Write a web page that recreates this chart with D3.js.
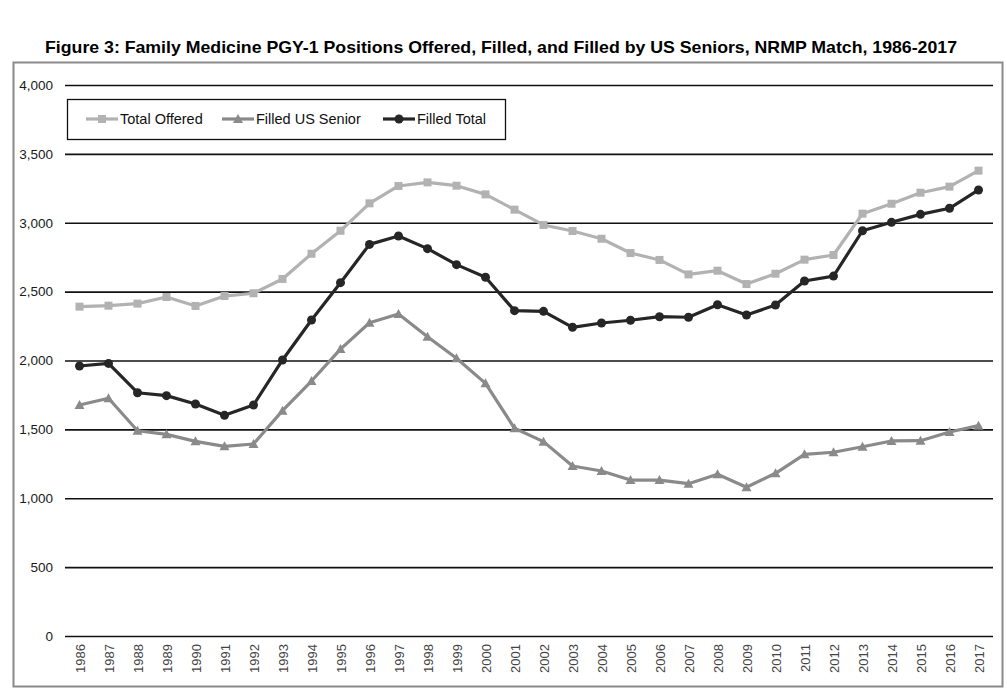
<!DOCTYPE html>
<html><head><meta charset="utf-8">
<script src="https://cdn.jsdelivr.net/npm/d3@7"></script>
<style>body{margin:0;background:#fff;} svg{display:block;}</style>
</head><body>
<svg id="c" width="1007" height="688"></svg>
<script>
const years = d3.range(1986, 2018).map(String);
const totalOffered = [2391,2398,2413,2461,2396,2468,2488,2592,2775,2942,3141,3267,3293,3269,3206,3095,2984,2940,2884,2780,2730,2625,2652,2555,2630,2732,2766,3066,3138,3218,3262,3378];
const filledUSSenior = [1677,1726,1490,1464,1413,1377,1394,1636,1851,2083,2274,2338,2173,2016,1834,1508,1411,1234,1198,1132,1132,1106,1174,1080,1181,1319,1334,1374,1416,1418,1481,1527];
const filledTotal = [1960,1979,1766,1745,1684,1602,1677,2004,2294,2565,2843,2904,2812,2696,2604,2362,2357,2241,2272,2292,2318,2314,2405,2330,2403,2577,2613,2942,3003,3061,3105,3238];
const yTicks = [0,500,1000,1500,2000,2500,3000,3500,4000];
const seriesNames = ["Total Offered","Filled US Senior","Filled Total"];
const titleText = "Figure 3: Family Medicine PGY-1 Positions Offered, Filled, and Filled by US Seniors, NRMP Match, 1986-2017";

const svg = d3.select("#c");
const L = 65, R = 993, T = 85, B = 636;
const x = d3.scalePoint().domain(years).range([L, R]).padding(0.5);
const y = d3.scaleLinear().domain([0, 4000]).range([B, T]);

// title
svg.append("text").attr("x", 45).attr("y", 53)
  .attr("font-family", "'Liberation Sans Narrow','Arial Narrow','Liberation Sans',Arial,sans-serif")
  .attr("font-weight", "bold").attr("font-size", 17)
  .attr("textLength", 912).attr("lengthAdjust", "spacingAndGlyphs")
  .text(titleText);

// frame
svg.append("rect").attr("x", 13.5).attr("y", 62.5).attr("width", 989).attr("height", 624)
  .attr("fill", "none").attr("stroke", "#8a8a8a").attr("stroke-width", 2);

// grid + y axis
const yAxis = d3.axisLeft(y).tickValues(yTicks).tickSize(-(R - L)).tickPadding(12)
  .tickFormat(d3.format(","));
const gy = svg.append("g").attr("transform", `translate(${L},0)`).call(yAxis);
gy.select(".domain").remove();
gy.selectAll(".tick line").attr("stroke", "#111").attr("stroke-width", 1.6);
gy.selectAll(".tick text").attr("font-family", "'Liberation Sans',Arial,sans-serif")
  .attr("font-size", 13.5).attr("fill", "#1a1a1a");

// x axis labels
const xAxis = d3.axisBottom(x).tickSize(0).tickPadding(0);
const gx = svg.append("g").attr("transform", `translate(0,${B})`).call(xAxis);
gx.select(".domain").remove();
gx.selectAll(".tick text")
  .attr("font-family", "'Liberation Sans',Arial,sans-serif").attr("font-size", 13).attr("fill", "#444")
  .attr("text-anchor", "end").attr("dy", null).attr("y", 0)
  .attr("transform", "translate(4.5,8) rotate(-90)");

const colors = ["#b2b2b2", "#8a8a8a", "#262626"];
const data = [totalOffered, filledUSSenior, filledTotal];
const line = d3.line().x((d, i) => x(years[i])).y(d => y(d));

function marker(g, type, cx, cy, color) {
  if (type === 0) {
    g.append("rect").attr("x", cx - 4).attr("y", cy - 4).attr("width", 8).attr("height", 8).attr("fill", color);
  } else if (type === 1) {
    g.append("path").attr("d", `M${cx},${cy - 5}L${cx + 5},${cy + 4}L${cx - 5},${cy + 4}Z`).attr("fill", color);
  } else {
    g.append("circle").attr("cx", cx).attr("cy", cy).attr("r", 4.5).attr("fill", color);
  }
}

data.forEach((vals, s) => {
  const g = svg.append("g");
  g.append("path").datum(vals).attr("d", line).attr("fill", "none")
    .attr("stroke", colors[s]).attr("stroke-width", 3.2).attr("stroke-linejoin", "round");
  vals.forEach((v, i) => marker(g, s, x(years[i]), y(v), colors[s]));
});

// legend
const lg = svg.append("g");
lg.append("rect").attr("x", 67.5).attr("y", 99.5).attr("width", 438).attr("height", 40)
  .attr("fill", "#fff").attr("stroke", "#111").attr("stroke-width", 1.3);
const legX = [86, 222, 383];
seriesNames.forEach((n, s) => {
  const x0 = legX[s], cy = 119;
  lg.append("line").attr("x1", x0).attr("x2", x0 + 32).attr("y1", cy).attr("y2", cy)
    .attr("stroke", colors[s]).attr("stroke-width", 3.2);
  marker(lg, s, x0 + 16, cy, colors[s]);
  lg.append("text").attr("x", x0 + 34).attr("y", cy + 5)
    .attr("font-family", "'Liberation Sans',Arial,sans-serif").attr("font-size", 14.5).attr("fill", "#111")
    .text(n);
});
</script>
</body></html>
